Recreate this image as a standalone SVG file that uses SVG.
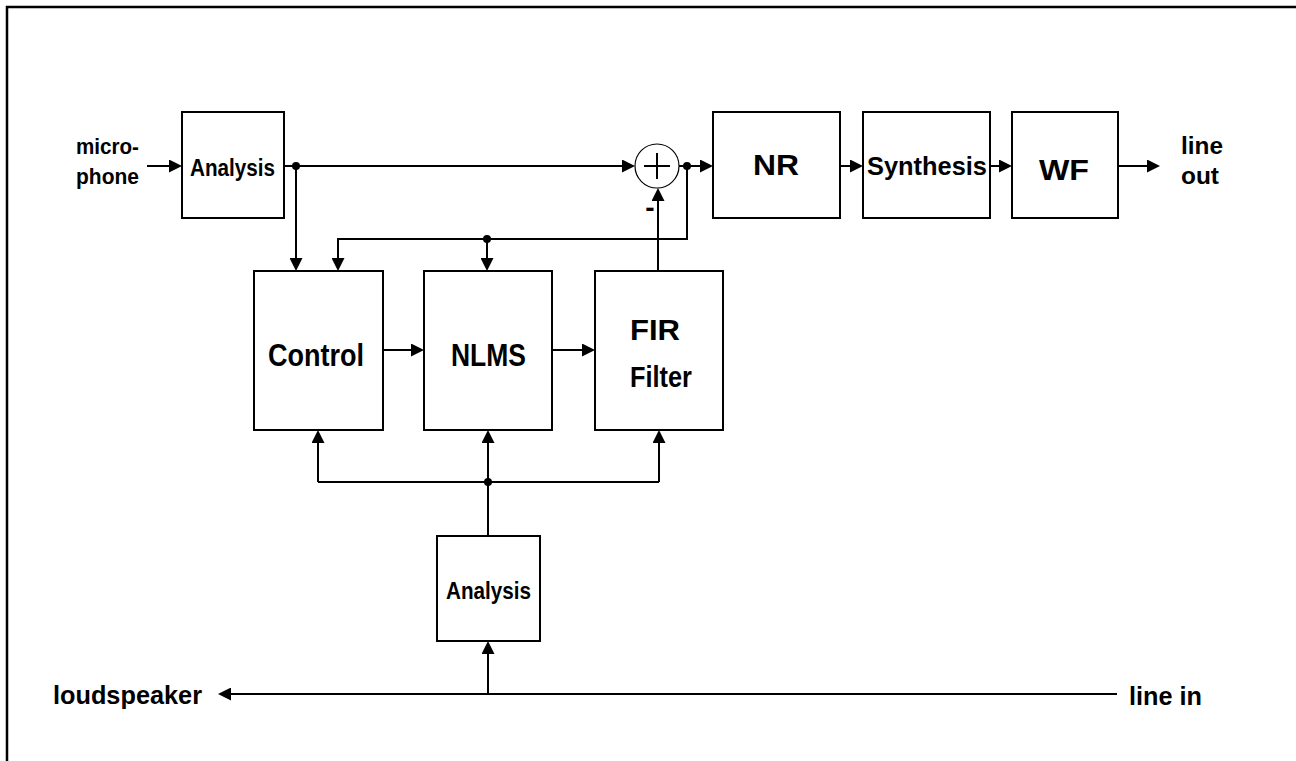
<svg xmlns="http://www.w3.org/2000/svg" width="1296" height="761" viewBox="0 0 1296 761">
<style>
.box{fill:#fff;stroke:#000;stroke-width:2}
.ln{fill:none;stroke:#000;stroke-width:2}
.arr{fill:none;stroke:#000;stroke-width:2;marker-end:url(#ah)}
.t{font-family:"Liberation Sans",Arial,sans-serif;font-weight:bold;fill:#000}
.dot{fill:#000}
</style>
<defs>
<marker id="ah" markerUnits="userSpaceOnUse" markerWidth="13" markerHeight="13" refX="11" refY="6.5" orient="auto">
<path d="M0,0 L13,6.5 L0,13 z" fill="#000"/>
</marker>
</defs>
<rect width="1296" height="761" fill="#fff"/>
<path d="M7,761 V7 H1296" fill="none" stroke="#000" stroke-width="2.5"/>

<g id="connectors">
<line class="arr" x1="147" y1="166" x2="180" y2="166"/>
<line class="arr" x1="284" y1="166" x2="633" y2="166"/>
<line class="arr" x1="296" y1="166" x2="296" y2="269"/>
<path class="arr" d="M687,166 V239 H338 V269"/>
<line class="arr" x1="487" y1="239" x2="487" y2="269"/>
<line class="arr" x1="679" y1="166" x2="711" y2="166"/>
<line class="arr" x1="840" y1="166" x2="861" y2="166"/>
<line class="arr" x1="990" y1="166" x2="1010" y2="166"/>
<line class="arr" x1="1118" y1="166" x2="1158" y2="166"/>
<line class="arr" x1="383" y1="350" x2="422" y2="350"/>
<line class="arr" x1="552" y1="350" x2="593" y2="350"/>
<line class="arr" x1="658" y1="271" x2="658" y2="190"/>
<line class="ln" x1="318" y1="482" x2="659" y2="482"/>
<line class="arr" x1="318" y1="482" x2="318" y2="432"/>
<line class="arr" x1="488" y1="536" x2="488" y2="432"/>
<line class="arr" x1="659" y1="482" x2="659" y2="432"/>
<line class="arr" x1="1117" y1="694" x2="220" y2="694"/>
<line class="arr" x1="488" y1="694" x2="488" y2="643"/>
<circle class="dot" cx="296" cy="166" r="4"/>
<circle class="dot" cx="687" cy="166" r="4"/>
<circle class="dot" cx="487" cy="239" r="4"/>
<circle class="dot" cx="488" cy="482" r="4"/>
</g>

<g id="sum">
<circle cx="657" cy="166" r="22" fill="#fff" stroke="#000" stroke-width="1.2"/>
<line class="ln" x1="644" y1="166" x2="670" y2="166" stroke-width="1.6"/>
<line class="ln" x1="657" y1="153" x2="657" y2="179" stroke-width="1.6"/>
<text class="t" x="650" y="217" font-size="28" text-anchor="middle">-</text>
</g>

<g id="analysis-top">
<rect class="box" x="182" y="112" width="102" height="106"/>
<text class="t" x="190" y="176" font-size="24" textLength="85" lengthAdjust="spacingAndGlyphs">Analysis</text>
</g>
<g id="nr">
<rect class="box" x="713" y="112" width="127" height="106"/>
<text class="t" x="753" y="175" font-size="30" textLength="46" lengthAdjust="spacingAndGlyphs">NR</text>
</g>
<g id="synthesis">
<rect class="box" x="863" y="112" width="127" height="106"/>
<text class="t" x="867" y="175" font-size="26" textLength="120" lengthAdjust="spacingAndGlyphs">Synthesis</text>
</g>
<g id="wf">
<rect class="box" x="1012" y="112" width="106" height="106"/>
<text class="t" x="1039" y="180" font-size="29" textLength="50" lengthAdjust="spacingAndGlyphs">WF</text>
</g>
<g id="control">
<rect class="box" x="254" y="271" width="129" height="159"/>
<text class="t" x="268" y="366" font-size="31" textLength="96" lengthAdjust="spacingAndGlyphs">Control</text>
</g>
<g id="nlms">
<rect class="box" x="424" y="271" width="128" height="159"/>
<text class="t" x="451" y="366" font-size="31" textLength="75" lengthAdjust="spacingAndGlyphs">NLMS</text>
</g>
<g id="fir">
<rect class="box" x="595" y="271" width="128" height="159"/>
<text class="t" x="630" y="340" font-size="30" textLength="50" lengthAdjust="spacingAndGlyphs">FIR</text>
<text class="t" x="630" y="387" font-size="30" textLength="62" lengthAdjust="spacingAndGlyphs">Filter</text>
</g>
<g id="analysis-bottom">
<rect class="box" x="437" y="536" width="103" height="105"/>
<text class="t" x="446" y="599" font-size="24" textLength="85" lengthAdjust="spacingAndGlyphs">Analysis</text>
</g>

<g id="labels">
<text class="t" x="76" y="154" font-size="22" textLength="63" lengthAdjust="spacingAndGlyphs">micro-</text>
<text class="t" x="76" y="184" font-size="22" textLength="63" lengthAdjust="spacingAndGlyphs">phone</text>
<text class="t" x="1181" y="154" font-size="23" textLength="42" lengthAdjust="spacingAndGlyphs">line</text>
<text class="t" x="1181" y="184" font-size="23" textLength="38" lengthAdjust="spacingAndGlyphs">out</text>
<text class="t" x="53" y="704" font-size="26" textLength="149" lengthAdjust="spacingAndGlyphs">loudspeaker</text>
<text class="t" x="1129" y="705" font-size="26" textLength="73" lengthAdjust="spacingAndGlyphs">line in</text>
</g>
</svg>
